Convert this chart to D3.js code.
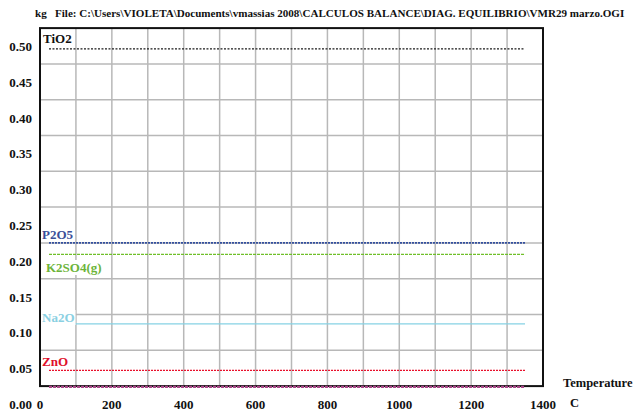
<!DOCTYPE html>
<html>
<head>
<meta charset="utf-8">
<script src="https://cdn.jsdelivr.net/npm/d3@7"></script>
<style>
  html, body { margin: 0; padding: 0; background: #fff; overflow: hidden; }
  svg { display: block; }
</style>
</head>
<body>
<svg id="chart" width="634" height="414"></svg>
<script>
// ---- data ----
const titleText = "kg   File: C:\\Users\\VIOLETA\\Documents\\vmassias 2008\\CALCULOS BALANCE\\DIAG. EQUILIBRIO\\VMR29 marzo.OGI";
const temperatures = [25, 100, 200, 300, 400, 500, 600, 700, 800, 900, 1000, 1100, 1200, 1300, 1350];
const seriesNames = ["TiO2", "P2O5", "K2SO4(g)", "Na2O", "ZnO", "Other"];
const tiO2  = [0.496, 0.496, 0.496, 0.496, 0.496, 0.496, 0.496, 0.496, 0.496, 0.496, 0.496, 0.496, 0.496, 0.496, 0.496];
const p2O5  = [0.225, 0.225, 0.225, 0.225, 0.225, 0.225, 0.225, 0.225, 0.225, 0.225, 0.225, 0.225, 0.225, 0.225, 0.225];
const k2SO4 = [0.209, 0.209, 0.209, 0.209, 0.209, 0.209, 0.209, 0.209, 0.209, 0.209, 0.209, 0.209, 0.209, 0.209, 0.209];
const na2O  = [0.112, 0.112, 0.112, 0.112, 0.112, 0.112, 0.112, 0.112, 0.112, 0.112, 0.112, 0.112, 0.112, 0.112, 0.112];
const znO   = [0.047, 0.047, 0.047, 0.047, 0.047, 0.047, 0.047, 0.047, 0.047, 0.047, 0.047, 0.047, 0.047, 0.047, 0.047];
const other = [0.024, 0.024, 0.024, 0.024, 0.024, 0.024, 0.024, 0.024, 0.024, 0.024, 0.024, 0.024, 0.024, 0.024, 0.024];
const yTickValues = [0.00, 0.05, 0.10, 0.15, 0.20, 0.25, 0.30, 0.35, 0.40, 0.45, 0.50];
const xTickValues = [0, 200, 400, 600, 800, 1000, 1200, 1400];
const xGridValues = [100, 200, 300, 400, 500, 600, 700, 800, 900, 1000, 1100, 1200, 1300];
const yGridValues = [0.075, 0.125, 0.175, 0.225, 0.275, 0.325, 0.375, 0.425, 0.475];

// ---- styles ----
const seriesStyle = {
  "TiO2":     {color: "#1a1a1a", dash: "2,1.5", width: 1.3, label: "#111", lx: 43, ly: 43},
  "P2O5":     {color: "#34509e", dash: "2,1",   width: 1.8, label: "#3b4f99", lx: 42, ly: 239},
  "K2SO4(g)": {color: "#70bf2a", dash: "3,1",   width: 1.3, label: "#6cb43a", lx: 46, ly: 272},
  "Na2O":     {color: "#86d2e4", dash: null,    width: 1.3, label: "#8ad0e2", lx: 42, ly: 322},
  "ZnO":      {color: "#e8102c", dash: "2,1",   width: 1.4, label: "#e0102a", lx: 42, ly: 366},
  "Other":    {color: "#a84888", dash: "3,1",   width: 2.2, label: null}
};
const seriesData = [tiO2, p2O5, k2SO4, na2O, znO, other];

const svg = d3.select("#chart");
const x = d3.scaleLinear().domain([0, 1400]).range([40, 543]);
const y = d3.scaleLinear().domain([0, 0.5]).range([404, 46]);
const frameTop = y(0.525), frameBottom = y(0.025);

const serif = "'Liberation Serif', 'Times New Roman', serif";

// title: natural width fitted inside the window
const title = svg.append("text")
  .attr("x", 35).attr("y", 17)
  .attr("font-family", serif).attr("font-weight", "bold").attr("font-size", 11.5)
  .attr("fill", "#111")
  .style("white-space", "pre")
  .text(titleText);
const maxTitleW = 590;
const natW = title.node().getComputedTextLength();
if (natW > maxTitleW) title.attr("font-size", 11.5 * maxTitleW / natW);

// grid
svg.append("g").selectAll("line").data(xGridValues).join("line")
  .attr("x1", d => x(d)).attr("x2", d => x(d))
  .attr("y1", frameTop).attr("y2", frameBottom)
  .attr("stroke", "#b8b8b8").attr("stroke-width", 1.5);
svg.append("g").selectAll("line").data(yGridValues).join("line")
  .attr("x1", x(0)).attr("x2", x(1400))
  .attr("y1", d => y(d)).attr("y2", d => y(d))
  .attr("stroke", "#b8b8b8").attr("stroke-width", 1.5);

// frame
svg.append("rect")
  .attr("x", x(0)).attr("y", frameTop)
  .attr("width", x(1400) - x(0)).attr("height", frameBottom - frameTop)
  .attr("fill", "none").attr("stroke", "#111").attr("stroke-width", 2);

// series lines
const line = d3.line().x(d => x(d[0])).y(d => y(d[1]));
seriesNames.forEach((name, i) => {
  const st = seriesStyle[name];
  const pts = temperatures.map((t, j) => [t, seriesData[i][j]]);
  svg.append("path").datum(pts)
    .attr("d", line)
    .attr("fill", "none")
    .attr("stroke", st.color)
    .attr("stroke-width", st.width)
    .attr("stroke-dasharray", st.dash);
});

// series labels with white background
seriesNames.forEach(name => {
  const st = seriesStyle[name];
  if (!st.label) return;
  const g = svg.append("g");
  const bg = g.append("rect").attr("fill", "#fff");
  const t = g.append("text")
    .attr("x", st.lx).attr("y", st.ly)
    .attr("font-family", serif).attr("font-weight", "bold").attr("font-size", 13)
    .attr("fill", st.label)
    .text(name);
  const bb = t.node().getBBox();
  bg.attr("x", bb.x - 1).attr("y", bb.y).attr("width", bb.width + 2).attr("height", bb.height);
});

// y tick labels
svg.append("g").selectAll("text").data(yTickValues).join("text")
  .attr("x", 32).attr("y", d => y(d) + 5)
  .attr("text-anchor", "end")
  .attr("font-family", serif).attr("font-weight", "bold").attr("font-size", 13)
  .attr("fill", "#111")
  .text(d => d3.format(".2f")(d));

// x tick labels
svg.append("g").selectAll("text").data(xTickValues).join("text")
  .attr("x", d => x(d)).attr("y", 409)
  .attr("text-anchor", "middle")
  .attr("font-family", serif).attr("font-weight", "bold").attr("font-size", 13)
  .attr("fill", "#111")
  .text(d => d);

// axis title
svg.append("text").attr("x", 563).attr("y", 387)
  .attr("font-family", serif).attr("font-weight", "bold").attr("font-size", 12.5)
  .attr("fill", "#111").text("Temperature");
svg.append("text").attr("x", 570).attr("y", 407)
  .attr("font-family", serif).attr("font-weight", "bold").attr("font-size", 12.5)
  .attr("fill", "#111").text("C");
</script>
</body>
</html>
